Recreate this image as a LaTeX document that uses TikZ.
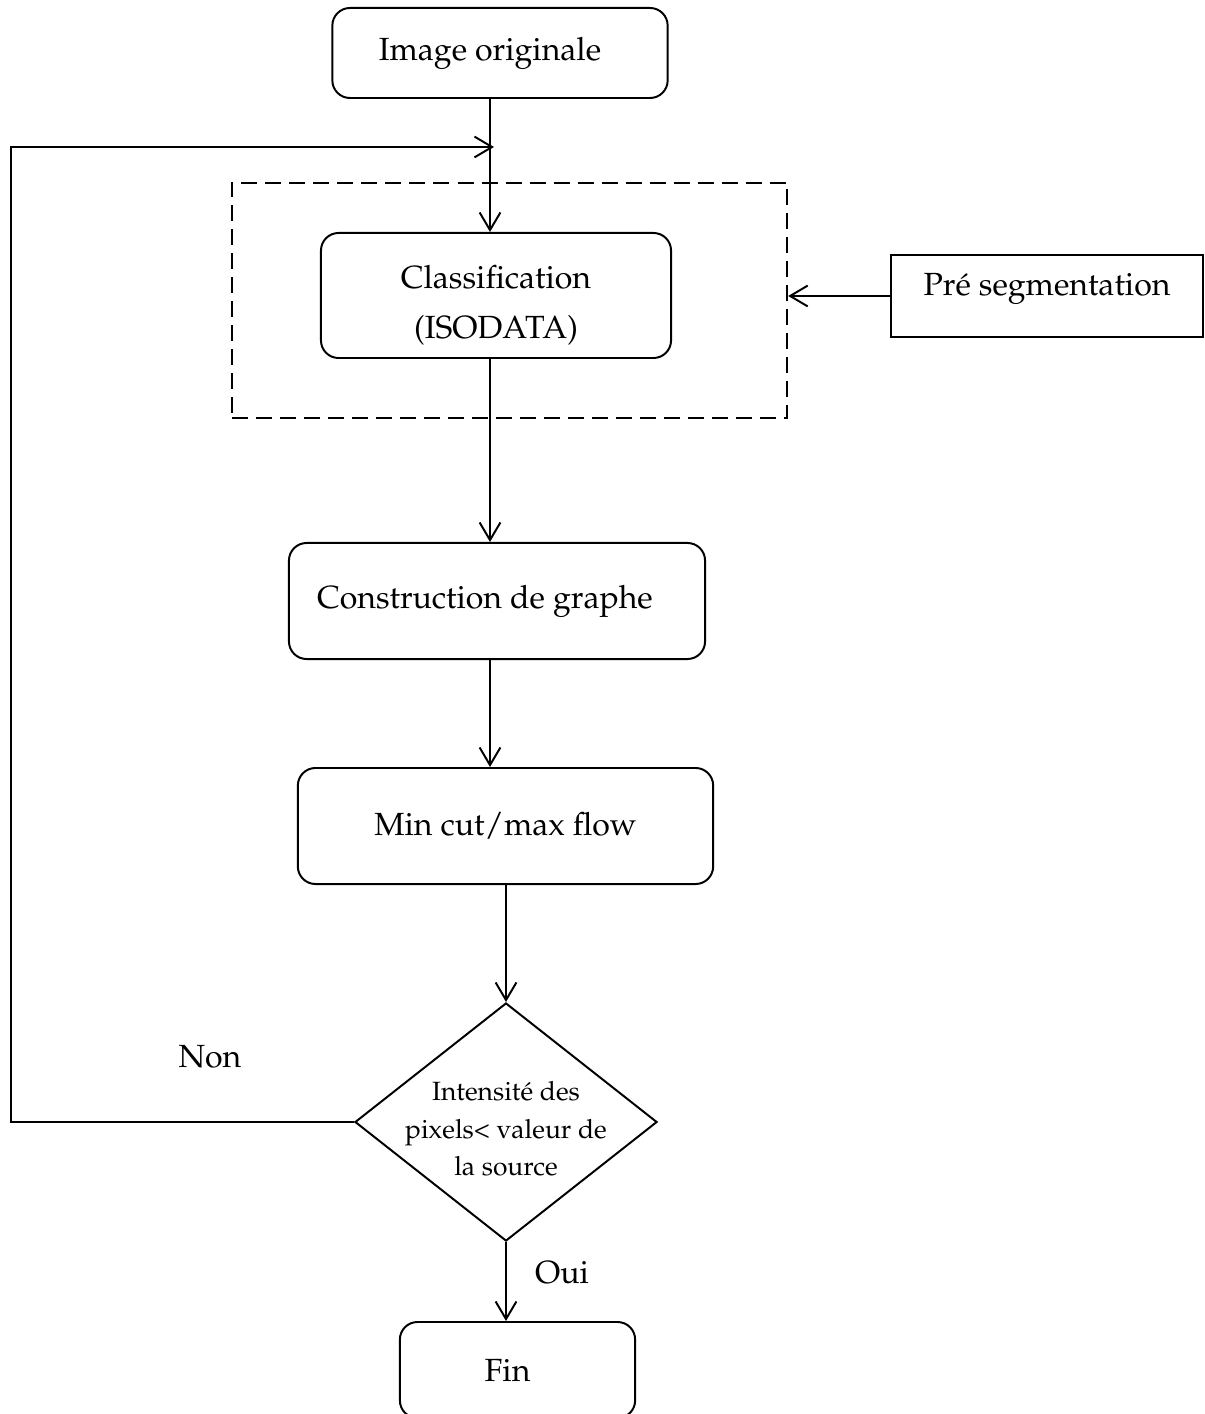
\documentclass[tikz,border=0pt]{standalone}
\usepackage[T1]{fontenc}
\usepackage{mathpazo}
\usepackage{tikz}
\usetikzlibrary{arrows.meta, shapes, positioning, calc}

\begin{document}
\begin{tikzpicture}[x=0.0125cm, y=-0.0125cm, line width=0.7pt,
    >={Straight Barb[length=2.2mm,width=2.6mm]},
    font=\fontsize{11.4}{17.8}\selectfont,
    procbox/.style={draw, rounded corners=0.22cm, align=center, inner sep=0pt},
    dashbox/.style={draw, dash pattern=on 2mm off 1mm, inner sep=0pt},
    prebox/.style={draw, inner sep=0pt, text height=8pt, text depth=8pt},
    decision/.style={draw, diamond, inner sep=0pt, minimum width=3.775cm, minimum height=2.975cm}]
    \useasboundingbox (0,0) rectangle (1204,1414);

    % Main chain of steps
    \node[procbox, minimum width=4.19cm, minimum height=1.125cm] (orig) at (500,53) {Image originale\hspace*{0.25cm}};
    \node[dashbox, minimum width=6.94cm, minimum height=2.94cm] (prebloc) at (509.5,300.5) {};
    \node[procbox, minimum width=4.375cm, minimum height=1.5625cm] (classif) at (496,295.5) {\rule{0pt}{15pt}Classification\\(ISODATA)};
    \node[procbox, minimum width=5.2cm, minimum height=1.45cm] (graphe) at (497,601) {Construction de graphe\hspace*{0.3cm}};
    \node[procbox, minimum width=5.19cm, minimum height=1.45cm] (mincut) at (505.5,826) {Min cut/max flow};
    \node[decision] (test) at (506,1122) {};
    \node[font=\fontsize{9.4}{13.4}\selectfont, align=center] (testtxt) at (506,1129) {Intensit\'e des\\pixels\textless{} valeur de\\la source};
    \node[procbox, minimum width=2.94cm, minimum height=1.2cm] (fin) at (517.5,1370) {Fin\hspace*{0.25cm}};

    % Side input
    \node[prebox, minimum width=3.9cm, minimum height=1.025cm] (pre) at (1047,296) {Pr\'e segmentation};

    % Branch labels
    \node (non) at (210,1057) {Non};
    \node (oui) at (562,1273) {Oui};

    \coordinate (col) at (490,0);
    \coordinate (retour) at (494,147);

    % Arrows
    \draw[->] (orig.south -| col) -- (classif.north -| col);
    \draw[->] (classif.south -| col) -- (graphe.north -| col);
    \draw[->] (graphe.south -| col) -- (mincut.north -| col);
    \draw[->] (mincut.south -| test.north) -- (test.north);
    \draw[->] (test.south) -- (test.south |- fin.north);
    \draw[->] (pre.west) -- (pre.west -| prebloc.east);
    \draw[->] (test.west) -- ++(-343,0) |- (retour);
\end{tikzpicture}
\end{document}
